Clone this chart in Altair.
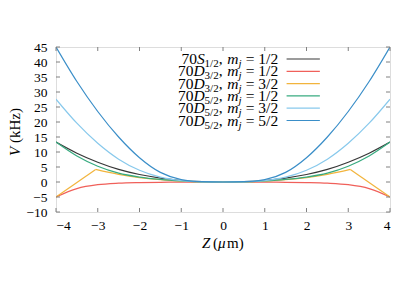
import altair as alt
import pandas as pd

# ---------------- data ----------------
Z_GRID = [-4, -3.5, -3, -2.5, -2, -1.5, -1, -0.5, 0, 0.5, 1, 1.5, 2, 2.5, 3, 3.5, 4]
V_S12_12 = [13.3, 9.6, 6.6, 4.2, 2.5, 1.3, 0.5, 0.1, 0, 0.1, 0.5, 1.3, 2.5, 4.2, 6.6, 9.6, 13.3]
V_D32_12 = [-5.0, -2.2, -0.9, -0.4, -0.2, -0.1, -0.04, -0.01, 0, -0.01, -0.04, -0.1, -0.2, -0.4, -0.9, -2.2, -5.0]
V_D52_12 = [13.3, 8.65, 5.25, 2.95, 1.65, 0.85, 0.35, 0.05, 0, 0.05, 0.35, 0.85, 1.65, 2.95, 5.25, 8.65, 13.3]
V_D52_32 = [27.6, 19.6, 12.9, 7.6, 3.9, 1.6, 0.45, 0.05, 0, 0.05, 0.45, 1.6, 3.9, 7.6, 12.9, 19.6, 27.6]
V_D52_52 = [45.0, 33.5, 23.5, 15.0, 8.1, 3.2, 0.8, 0.1, 0, 0.1, 0.8, 3.2, 8.1, 15.0, 23.5, 33.5, 45.0]
# D3/2, mj=3/2 has a kink near |Z| = 3.05
Z_D32_32_IN = [-3.05, -2.5, -2, -1.5, -1, -0.5, 0, 0.5, 1, 1.5, 2, 2.5, 3.05]
V_D32_32_IN = [4.2, 2.55, 1.45, 0.75, 0.3, 0.05, 0, 0.05, 0.3, 0.75, 1.45, 2.55, 4.2]
Z_D32_32_OUT_L = [-4, -3.05]
V_D32_32_OUT_L = [-5.0, 4.2]
Z_D32_32_OUT_R = [3.05, 4]
V_D32_32_OUT_R = [4.2, -5.0]

SERIES = ["S12_12", "D32_12", "D32_32", "D52_12", "D52_32", "D52_52"]
COLORS = ["#383838", "#f0605a", "#f2b43c", "#38ab80", "#88c9ec", "#3a8ec8"]
LEG_LETTER = ["S", "D", "D", "D", "D", "D"]
LEG_SUB = ["1/2", "3/2", "3/2", "5/2", "5/2", "5/2"]
LEG_MJ = ["1/2", "1/2", "3/2", "1/2", "3/2", "5/2"]
LEG_V = [41.0, 36.9, 32.8, 28.7, 24.6, 20.5]

X_TICKS = [-4, -3, -2, -1, 0, 1, 2, 3, 4]
Y_TICKS = [-10, -5, 0, 5, 10, 15, 20, 25, 30, 35, 40, 45]

# ---------------- layout ----------------
W, H = 334, 165
GRAY = "#808080"
FONT = "'Liberation Serif', 'Times New Roman', 'DejaVu Serif', serif"
F, SF = 15.5, 11
TL = 4  # tick length
LEG_X_RIGHT = 1.322
LEG_LINE = (1.523, 2.32)

xs = alt.Scale(domain=[-4, 4], nice=False, zero=False)
ys = alt.Scale(domain=[-10, 45], nice=False, zero=False)
cs = alt.Scale(domain=SERIES, range=COLORS)

AX_X = alt.Axis(values=X_TICKS, ticks=False, domain=False, grid=False, title=None,
                labelFont=FONT, labelFontSize=13.5, labelColor="black", labelPadding=6, format="d")
AX_Y = alt.Axis(values=Y_TICKS, ticks=False, domain=False, grid=False, title=None,
                labelFont=FONT, labelFontSize=13.5, labelColor="black", labelPadding=9, format="d")

def X(field):
    return alt.X(field, scale=xs, axis=AX_X)

def Y(field):
    return alt.Y(field, scale=ys, axis=AX_Y)

rows = []
for name, vals in zip(SERIES, [V_S12_12, V_D32_12, None, V_D52_12, V_D52_32, V_D52_52]):
    if vals is None:
        for z, v in zip(Z_D32_32_IN, V_D32_32_IN):
            rows.append({"s": name, "Z": z, "V": v})
    else:
        for z, v in zip(Z_GRID, vals):
            rows.append({"s": name, "Z": z, "V": v})
df = pd.DataFrame(rows)

kink = pd.DataFrame(
    [{"s": "D32_32", "seg": "L", "Z": z, "V": v} for z, v in zip(Z_D32_32_OUT_L, V_D32_32_OUT_L)]
    + [{"s": "D32_32", "seg": "R", "Z": z, "V": v} for z, v in zip(Z_D32_32_OUT_R, V_D32_32_OUT_R)]
)

lines = alt.Chart(df).mark_line(interpolate="monotone", strokeWidth=1.2, clip=True).encode(
    x=X("Z:Q"), y=Y("V:Q"),
    color=alt.Color("s:N", scale=cs, legend=None),
    detail="s:N",
)
lines_kink = alt.Chart(kink).mark_line(strokeWidth=1.2, clip=True).encode(
    x=X("Z:Q"), y=Y("V:Q"),
    color=alt.Color("s:N", scale=cs, legend=None),
    detail="seg:N",
)

# inward ticks on all four sides
ytdf = pd.DataFrame({"t": Y_TICKS})
xtdf = pd.DataFrame({"t": X_TICKS})
ticks = [
    alt.Chart(ytdf).mark_rule(color=GRAY, strokeWidth=1).encode(y=Y("t:Q"), x=alt.value(0), x2=alt.value(TL)),
    alt.Chart(ytdf).mark_rule(color=GRAY, strokeWidth=1).encode(y=Y("t:Q"), x=alt.value(W), x2=alt.value(W - TL)),
    alt.Chart(xtdf).mark_rule(color=GRAY, strokeWidth=1).encode(x=X("t:Q"), y=alt.value(H), y2=alt.value(H - TL)),
    alt.Chart(xtdf).mark_rule(color=GRAY, strokeWidth=1).encode(x=X("t:Q"), y=alt.value(0), y2=alt.value(TL)),
]

# ---------------- legend (text left of line sample) ----------------
leg = pd.DataFrame({
    "s": SERIES, "L": LEG_LETTER, "sub": LEG_SUB, "mj": ["= " + m for m in LEG_MJ],
    "V": LEG_V, "x0": [LEG_X_RIGHT] * 6, "x1": [LEG_LINE[0]] * 6, "x2": [LEG_LINE[1]] * 6,
})

w_val = (0.564 + 0.25 + 1.278) * F
d_j = -(w_val + 0.278 * F)
d_m = d_j - 0.278 * SF
d_comma = d_m - 0.722 * F - 0.3 * F
d_sub = d_comma - 0.25 * F
d_let = d_sub - 1.278 * SF
d70_S = d_let - 0.5 * F
d70_D = d_let - 0.722 * F

def piece(field, dx, size, style="normal", dy=0, filt=None):
    c = alt.Chart(leg)
    if filt is not None:
        c = c.transform_filter(filt)
    return c.mark_text(align="right", baseline="alphabetic", dx=dx, dy=dy, font=FONT,
                       fontSize=size, fontStyle=style, color="black").encode(
        x=X("x0:Q"), y=Y("V:Q"), text=f"{field}:N")

legend_layers = [
    piece("mj", 0, F, dy=5),
    piece("mj", d_j, SF, "italic", dy=8).encode(text=alt.value("j")),
    piece("mj", d_m, F, "italic", dy=5).encode(text=alt.value("m")),
    piece("mj", d_comma, F, dy=5).encode(text=alt.value(",")),
    piece("sub", d_sub, SF, dy=8),
    piece("L", d_let, F, "italic", dy=5),
    piece("L", d70_S, F, dy=5, filt="datum.L == 'S'").encode(text=alt.value("70")),
    piece("L", d70_D, F, dy=5, filt="datum.L == 'D'").encode(text=alt.value("70")),
    alt.Chart(leg).mark_rule(strokeWidth=1.2).encode(
        x=X("x1:Q"), x2="x2:Q", y=Y("V:Q"),
        color=alt.Color("s:N", scale=cs, legend=None)),
]

# ---------------- axis titles (mixed italic) ----------------
tdf = pd.DataFrame({"a": [0]})
def label(txt, x, y, style="normal", angle=0, size=15):
    return alt.Chart(tdf).mark_text(align="left", baseline="middle", font=FONT, fontSize=size,
                                    fontStyle=style, angle=angle, color="black").encode(
        x=alt.value(x), y=alt.value(y), text=alt.value(txt))

titles = [
    label("Z", 146, 196, "italic"),
    label("(", 157, 196),
    label("μ", 162, 196, "italic"),
    label("m)", 171, 196),
    label("V", -41.5, 109, "italic", angle=270),
    label("(kHz)", -41.5, 96, angle=270),
]

chart = alt.layer(lines, lines_kink, *ticks, *legend_layers, *titles).properties(
    width=W, height=H,
    autosize=alt.AutoSizeParams(type="none"),
    padding={"left": 48, "top": 39, "right": 17, "bottom": 70},
).configure_view(stroke=GRAY, strokeWidth=1).configure(background="white")

chart.save("out.html", embed_options={"renderer": "svg", "actions": False})
